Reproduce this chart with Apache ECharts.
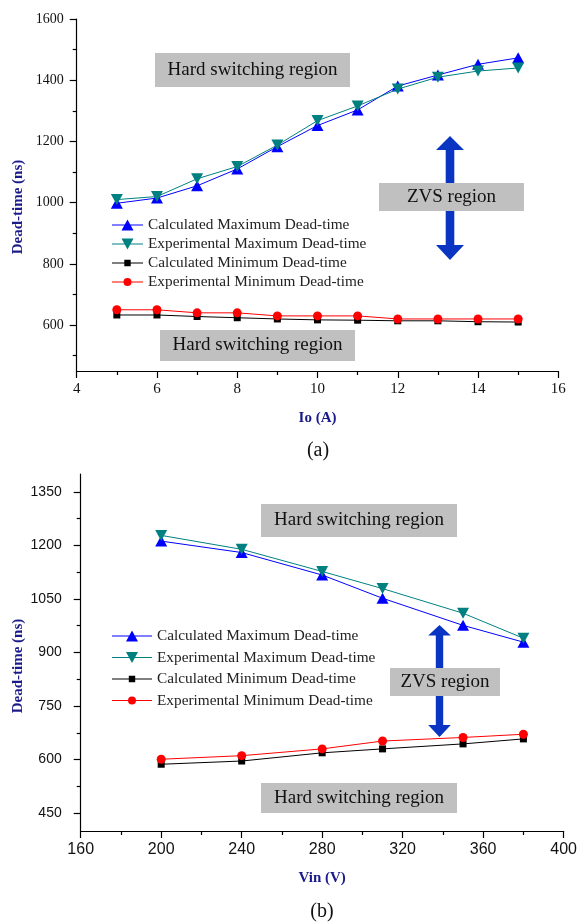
<!DOCTYPE html>
<html><head><meta charset="utf-8">
<script src="https://cdn.jsdelivr.net/npm/echarts@6/dist/echarts.min.js"></script>
<style>html,body{margin:0;padding:0;background:#fff}#c{width:580px;height:924px}</style>
</head><body><div id="c"></div>
<script>
// ---------- data ----------
const seriesNames = ['Calculated Maximum Dead-time', 'Experimental Maximum Dead-time', 'Calculated Minimum Dead-time', 'Experimental Minimum Dead-time'];
const ioA = [5, 6, 7, 8, 9, 10, 11, 12, 13, 14, 15];
const a_calcMax = [998, 1015, 1055, 1110, 1183, 1252, 1303, 1381, 1417, 1452, 1473];
const a_expMax = [1010, 1020, 1078, 1118, 1188, 1268, 1316, 1371, 1410, 1430, 1440];
const a_calcMin = [633, 633, 628, 624, 620, 617, 616, 614, 614, 611, 610];
const a_expMin = [650, 650, 640, 640, 630, 630, 630, 620, 620, 620, 620];
const vin = [200, 240, 280, 310, 350, 380];
const b_calcMax = [1212, 1180, 1117, 1052, 976, 929];
const b_expMax = [1228, 1189, 1127, 1079, 1010, 940];
const b_calcMin = [587, 596, 619, 630, 644, 658];
const b_expMin = [601, 611, 630, 652, 662, 671];
const a_yTicks = [600, 800, 1000, 1200, 1400, 1600];
const a_yMinor = [500, 700, 900, 1100, 1300, 1500];
const b_yTicks = [450, 600, 750, 900, 1050, 1200, 1350];
const b_yMinor = [525, 675, 825, 975, 1125, 1275];
const annotHard = 'Hard switching region';
const annotZVS = 'ZVS region';

// ---------- style ----------
const SERIF = 'Liberation Serif';
const SANS = 'Liberation Sans';
const NAVY = '#1a1a8a';
const colors = ['#0000ff', '#008080', '#000000', '#ff0000'];
const symbols = ['triangle', 'triangle', 'rect', 'circle'];
const rotates = [0, 180, 0, 0];
const sizes = [[12, 11], [12, 11], 7, 9];

function zip(xs, ys) { return xs.map((x, i) => [x, ys[i]]); }

function icon(kind, W, H) {
  const cx = W / 2, cy = H / 2;
  let p = 'M0,0L0.01,0L0.01,0.01Z M' + (W - 0.01) + ',' + (H - 0.01) + 'L' + W + ',' + (H - 0.01) + 'L' + W + ',' + H + 'Z ';
  p += 'M0,' + (cy - 0.5) + 'L' + W + ',' + (cy - 0.5) + 'L' + W + ',' + (cy + 0.5) + 'L0,' + (cy + 0.5) + 'Z ';
  if (kind === 0) p += 'M' + (cx - 6) + ',' + (cy + 5.5) + 'L' + cx + ',' + (cy - 5.5) + 'L' + (cx + 6) + ',' + (cy + 5.5) + 'Z';
  if (kind === 1) p += 'M' + (cx - 6) + ',' + (cy - 5.5) + 'L' + (cx + 6) + ',' + (cy - 5.5) + 'L' + cx + ',' + (cy + 5.5) + 'Z';
  if (kind === 2) p += 'M' + (cx - 3.2) + ',' + (cy - 3.2) + 'L' + (cx + 3.2) + ',' + (cy - 3.2) + 'L' + (cx + 3.2) + ',' + (cy + 3.2) + 'L' + (cx - 3.2) + ',' + (cy + 3.2) + 'Z';
  if (kind === 3) p += 'M' + (cx - 4) + ',' + cy + 'A4,4,0,0,1,' + (cx + 4) + ',' + cy + 'A4,4,0,0,1,' + (cx - 4) + ',' + cy + 'Z';
  return 'path://' + p;
}

function mkSeries(xs, arrs, xi, yi) {
  return arrs.map((vals, k) => ({
    name: seriesNames[k], type: 'line', xAxisIndex: xi, yAxisIndex: yi,
    data: zip(xs, vals), symbol: symbols[k], symbolSize: sizes[k], symbolRotate: rotates[k],
    itemStyle: { color: colors[k], borderWidth: 0 },
    lineStyle: { color: colors[k], width: 1 },
    emphasis: { disabled: true }, animation: false, z: 3 + k
  }));
}

const axLine = { lineStyle: { color: '#000', width: 1.2 } };
const tickStyle = { color: '#000', width: 1.2 };
const plain = v => String(v);

function xAxis(gi, min, max, interval, name, labelFont, labelSize) {
  return {
    gridIndex: gi, type: 'value', min: min, max: max, interval: interval,
    axisLine: axLine, splitLine: { show: false },
    axisTick: { length: 7, lineStyle: tickStyle },
    minorTick: { show: true, splitNumber: 2, length: 4, lineStyle: tickStyle },
    axisLabel: { margin: 11, fontFamily: labelFont, fontSize: labelSize, color: '#111', formatter: plain },
    name: name, nameLocation: 'middle', nameGap: 40,
    nameTextStyle: { fontFamily: SERIF, fontWeight: 'bold', fontSize: 15, color: NAVY }
  };
}
function yMain(gi, min, max, ticks, labelFont, labelSize, margin) {
  return {
    gridIndex: gi, type: 'value', min: min, max: max, position: 'left',
    axisLine: axLine, splitLine: { show: false },
    axisTick: { customValues: ticks, length: 7, lineStyle: tickStyle },
    axisLabel: { customValues: ticks, margin: margin, fontFamily: labelFont, fontSize: labelSize, color: '#111', formatter: plain }
  };
}
function yMinor(gi, min, max, ticks) {
  return {
    gridIndex: gi, type: 'value', min: min, max: max, position: 'left', offset: 0,
    axisLine: { show: false }, splitLine: { show: false },
    axisTick: { customValues: ticks, length: 4, lineStyle: tickStyle },
    axisLabel: { show: false }
  };
}

function legend(left, top, W, H, gap) {
  return {
    orient: 'vertical', left: left, top: top, padding: 0, itemGap: gap,
    itemWidth: W, itemHeight: H, selectedMode: false,
    itemStyle: { borderWidth: 0 },
    textStyle: { fontFamily: SERIF, fontSize: 15.3, lineHeight: 15, color: '#222', padding: [0, 0, 0, 0] },
    data: seriesNames.map((n, k) => ({ name: n, icon: icon(k, W, H) }))
  };
}

function box(x, y, w, h, text) {
  return [
    { type: 'rect', shape: { x: x, y: y, width: w, height: h }, style: { fill: '#c0c0c0' }, z: 20 },
    { type: 'text', x: x + w / 2, y: y + h / 2, z: 21,
      style: { text: text, fontFamily: SERIF, fontSize: 19, fill: '#111', align: 'center', verticalAlign: 'middle' } }
  ];
}
function arrow(cx, top, headTop, headBot, bot, hw, sw, color) {
  return { type: 'polygon', z: 15, shape: { points: [
    [cx, top], [cx + hw, headTop], [cx + sw, headTop], [cx + sw, headBot], [cx + hw, headBot],
    [cx, bot], [cx - hw, headBot], [cx - sw, headBot], [cx - sw, headTop], [cx - hw, headTop]
  ] }, style: { fill: color } };
}
function label(x, y, text, size, rot, bold, color) {
  return { type: 'text', x: x, y: y, rotation: rot, z: 21,
    style: { text: text, fontFamily: SERIF, fontSize: size, fontWeight: bold ? 'bold' : 'normal',
      fill: color, align: 'center', verticalAlign: 'middle' } };
}

const ARROW = '#0a35c2';
const graphic = [].concat(
  [arrow(450, 136, 150, 245, 260, 14, 4.3, ARROW)],
  box(155, 53, 195, 34, annotHard),
  box(160, 330, 195, 31, annotHard),
  box(379, 183, 145, 28, annotZVS),
  [arrow(439.5, 625, 635.5, 725, 737, 11.3, 3.7, ARROW)],
  box(261, 504, 196, 33, annotHard),
  box(261, 783, 196, 30, annotHard),
  box(390, 668, 110, 28, annotZVS),
  [label(18, 207, 'Dead-time (ns)', 15, Math.PI / 2, true, NAVY),
   label(18, 666, 'Dead-time (ns)', 15, Math.PI / 2, true, NAVY),
   label(318, 451, '(a)', 20, 0, false, '#111'),
   label(322, 912, '(b)', 20, 0, false, '#111')]
);

const option = {
  animation: false,
  grid: [
    { left: 76.7, top: 19, width: 481.6, height: 352 },
    { left: 80.7, top: 474, width: 483.3, height: 357 }
  ],
  xAxis: [
    xAxis(0, 4, 16, 2, 'Io (A)', SERIF, 15),
    xAxis(1, 160, 400, 40, 'Vin (V)', SANS, 16)
  ],
  yAxis: [
    yMain(0, 450, 1600, a_yTicks, SERIF, 14, 13),
    yMinor(0, 450, 1600, a_yMinor),
    yMain(1, 400, 1400, b_yTicks, SANS, 14, 19),
    yMinor(1, 400, 1400, b_yMinor)
  ],
  legend: [legend(112, 217.5, 31, 13, 4), legend(112, 628.5, 40, 14, 6.5)],
  series: [].concat(
    mkSeries(ioA, [a_calcMax, a_expMax, a_calcMin, a_expMin], 0, 0),
    mkSeries(vin, [b_calcMax, b_expMax, b_calcMin, b_expMin], 1, 2)
  ),
  graphic: graphic
};

const chart = echarts.init(document.getElementById('c'), null, { renderer: 'canvas' });
chart.setOption(option);
</script>
</body></html>
